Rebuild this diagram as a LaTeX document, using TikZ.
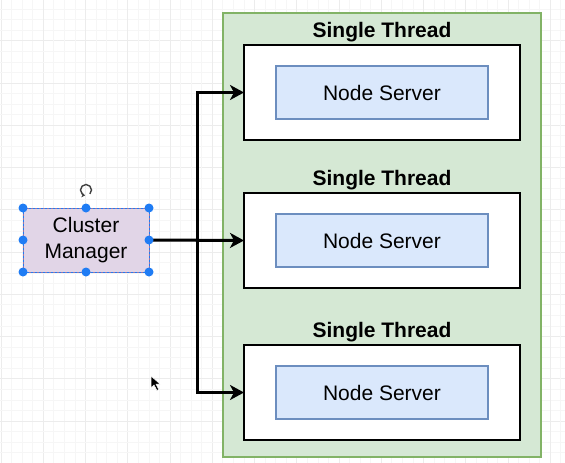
\documentclass[tikz,border=0pt]{standalone}
\usepackage{fontspec}
\setmainfont{Liberation Sans}
\usepackage{tikz}
\usetikzlibrary{positioning,arrows.meta,calc}
\definecolor{threadfill}{HTML}{D5E8D4}
\definecolor{threadrule}{HTML}{82B366}
\definecolor{serverfill}{HTML}{DAE8FC}
\definecolor{serverrule}{HTML}{6C8EBF}
\definecolor{mgrfill}{HTML}{E1D5E7}
\definecolor{mgrrule}{HTML}{9673A6}
\definecolor{handleblue}{HTML}{1F7CF4}
\definecolor{gridminor}{HTML}{F6F6F6}
\definecolor{gridmajor}{HTML}{ECECEC}
\tikzset{
  group/.style={rectangle,draw=threadrule,line width=2pt,fill=threadfill,minimum width=318pt,minimum height=444pt,inner sep=0pt,outer sep=0pt},
  thread/.style={rectangle,draw=black,line width=2pt,fill=white,minimum width=276pt,minimum height=95pt,inner sep=0pt,outer sep=0pt},
  server/.style={rectangle,draw=serverrule,line width=1.5pt,fill=serverfill,minimum width=212pt,minimum height=53pt,inner sep=0pt,font=\fontsize{21}{25}\selectfont},
  manager/.style={rectangle,draw=mgrrule,line width=1pt,fill=mgrfill,align=center,minimum width=126pt,minimum height=64pt,inner sep=0pt,outer sep=0pt,font=\fontsize{21}{26}\selectfont},
  threadtitle/.style={inner sep=0pt,outer sep=0pt,font=\fontsize{21}{25}\selectfont\bfseries},
  handle/.style={circle,fill=handleblue,minimum size=9pt,inner sep=0pt},
  edge/.style={-{Stealth[length=14pt,width=15pt,inset=4pt]},line width=3pt,line join=miter}
}

\begin{document}
\begin{tikzpicture}[x=1pt,y=-1pt]
  \useasboundingbox (0,0) rectangle (565,463);
  % grid
  \foreach \k in {0,...,54} {
    \pgfmathsetmacro{\gx}{0.95+10.5625*\k}
    \pgfmathsetmacro{\gy}{-1.55+10.5625*\k}
    \pgfmathtruncatemacro{\major}{mod(\k,4)==0 ? 1 : 0}
    \ifnum\major=1
      \draw[gridmajor,line width=0.8pt] (\gx,0) -- (\gx,463);
      \draw[gridmajor,line width=0.8pt] (0,\gy) -- (565,\gy);
    \else
      \draw[gridminor,line width=0.6pt] (\gx,0) -- (\gx,463);
      \draw[gridminor,line width=0.6pt] (0,\gy) -- (565,\gy);
    \fi
  }

  \node[group] (pool) at (382,235) {};
  \node[thread] (t1) at (382,92.5) {};
  \node[thread,below=53pt of t1] (t2) {};
  \node[thread,below=57pt of t2] (t3) {};
  \node[threadtitle,above=3pt of t1] (l1) {Single Thread};
  \node[threadtitle,above=3pt of t2] (l2) {Single Thread};
  \node[threadtitle,above=3pt of t3] (l3) {Single Thread};
  \node[server] (s1) at (t1) {Node Server};
  \node[server] (s2) at (t2) {Node Server};
  \node[server] (s3) at (t3) {Node Server};

  \node[manager] (mgr) at (86,240) {Cluster\\Manager};
  \coordinate (fork) at (197,240);
  \draw[edge] (mgr.east) -- (t2.west);
  \draw[edge] (fork) |- (t1.west);
  \draw[edge] (fork) |- (t3.west);

  % selection handles
  \draw[handleblue,line width=0.6pt,dash pattern=on 2pt off 2pt] (mgr.north west) rectangle (mgr.south east);
  \foreach \a in {north west,north,north east,west,east,south west,south,south east}
    \node[handle] at (mgr.\a) {};
  \coordinate (rot) at (86,190);
  \draw[black!75,line width=1.4pt,-{Stealth[length=3.5pt,width=5pt]}] ($(rot)+(45:5.5)$) arc[start angle=45,end angle=-260,radius=5.5];

  % pointer
  \coordinate (cur) at (151,376);
  \filldraw[fill=black,draw=white,line width=0.5pt] (cur) -- ++(0,12) -- ++(3,-3) -- ++(3,5.5) -- ++(1.8,-1) -- ++(-2.8,-5.3) -- ++(4.2,0) -- cycle;
\end{tikzpicture}
\end{document}
